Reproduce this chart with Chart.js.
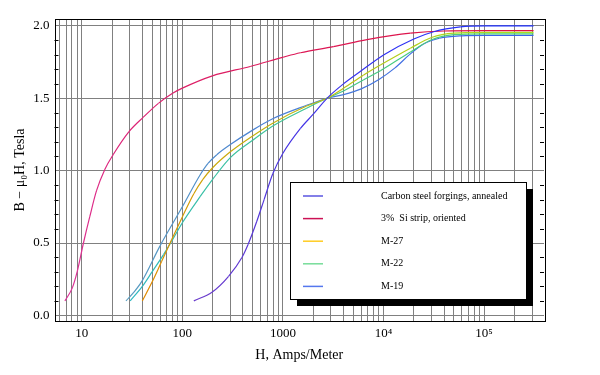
<!DOCTYPE html>
<html>
<head>
<meta charset="utf-8">
<script src="https://cdn.jsdelivr.net/npm/chart.js@4.4.1/dist/chart.umd.min.js"></script>
<style>
  html, body { margin: 0; padding: 0; background: #fff; }
  #wrap { width: 600px; height: 375px; }
</style>
</head>
<body>
<div id="wrap"><canvas id="bh"></canvas></div>
<script>
// B-H curves, values
const seriesNames = ['Carbon steel forgings, annealed', '3%  Si strip, oriented', 'M-27', 'M-22', 'M-19'];

const carbonH = [130, 197, 288, 391, 450, 550, 650, 794, 1000, 1486, 2000, 2740, 4000, 6000, 10000, 20000, 31500, 58000, 100000, 310000];
const carbonB = [0.10, 0.16, 0.27, 0.40, 0.49, 0.65, 0.80, 0.98, 1.12, 1.29, 1.39, 1.50, 1.60, 1.69, 1.80, 1.91, 1.96, 1.993, 2.0, 2.0];

const siH = [6.8, 8.06, 9, 10.4, 12, 14, 17, 20.5, 29.5, 41, 57.8, 80, 100, 199, 473, 1014, 1489, 3170, 6850, 18500, 40000, 100000, 310000];
const siB = [0.10, 0.19, 0.30, 0.50, 0.68, 0.86, 1.01, 1.11, 1.27, 1.37, 1.465, 1.535, 1.57, 1.655, 1.72, 1.785, 1.815, 1.857, 1.905, 1.95, 1.965, 1.967, 1.967];

const m27H = [40, 50, 62, 78, 100, 130, 160, 200, 300, 500, 800, 1700, 2740, 4000, 6300, 9300, 18500, 30000, 50000, 100000, 310000];
const m27B = [0.10, 0.23, 0.37, 0.52, 0.68, 0.84, 0.94, 1.02, 1.13, 1.24, 1.33, 1.445, 1.50, 1.57, 1.66, 1.73, 1.846, 1.92, 1.95, 1.955, 1.955];

const m22H = [30.3, 40, 50, 65, 78, 100, 150, 200, 300, 500, 800, 1700, 2740, 4000, 6300, 9300, 18500, 30000, 50000, 100000, 310000];
const m22B = [0.10, 0.20, 0.30, 0.42, 0.51, 0.64, 0.82, 0.94, 1.09, 1.21, 1.31, 1.43, 1.50, 1.55, 1.627, 1.69, 1.82, 1.905, 1.94, 1.945, 1.945];

const m19H = [27.5, 33, 40, 60, 100, 150, 180, 220, 300, 500, 800, 1700, 2740, 4000, 6000, 9000, 13000, 18000, 25000, 36000, 60000, 100000, 310000];
const m19B = [0.10, 0.16, 0.24, 0.48, 0.75, 0.97, 1.05, 1.11, 1.18, 1.28, 1.36, 1.45, 1.50, 1.525, 1.565, 1.63, 1.71, 1.80, 1.875, 1.915, 1.932, 1.935, 1.935];

// axis ticks
const xGridValues = [6, 7, 8, 9, 10, 20, 30, 40, 50, 60, 70, 80, 90, 100, 200, 300, 400, 500, 600, 700, 800, 900,
  1000, 2000, 3000, 4000, 5000, 6000, 7000, 8000, 9000, 10000, 20000, 30000, 40000, 50000, 60000, 70000, 80000, 90000,
  100000, 200000, 300000];
const xTickValues = [10, 100, 1000, 10000, 100000];
const xTickLabels = ['10', '100', '1000', '10\u2074', '10\u2075'];
const yTickValues = [0.0, 0.5, 1.0, 1.5, 2.0];
const yTickLabels = ['0.0', '0.5', '1.0', '1.5', '2.0'];
const yMinorValues = [0.1, 0.2, 0.3, 0.4, 0.6, 0.7, 0.8, 0.9, 1.1, 1.2, 1.3, 1.4, 1.6, 1.7, 1.8, 1.9];

// colours: legend swatch, plus start/end of the hue run along each curve
const legendColors = ['#5a55e0', '#cc1155', '#ffcc22', '#77dd99', '#5577ee'];
const curveStart = ['#6a3ccc', '#dd3399', '#e08a00', '#30b8c0', '#5a9ec0'];
const curveEnd = ['#2030ff', '#dd1040', '#a8e020', '#50d070', '#3a60ee'];

function hexToRgb(h) {
  return [parseInt(h.slice(1, 3), 16), parseInt(h.slice(3, 5), 16), parseInt(h.slice(5, 7), 16)];
}
function mix(a, b, t) {
  const A = hexToRgb(a), B = hexToRgb(b);
  return 'rgb(' + A.map((v, i) => Math.round(v + (B[i] - v) * t)).join(',') + ')';
}

const allH = [carbonH, siH, m27H, m22H, m19H];
const allB = [carbonB, siB, m27B, m22B, m19B];

const datasets = seriesNames.map((name, k) => {
  const n = allH[k].length;
  return {
    label: name,
    data: allH[k].map((h, i) => ({ x: h, y: allB[k][i] })),
    borderColor: legendColors[k],
    borderWidth: 1.2,
    pointRadius: 0,
    fill: false,
    cubicInterpolationMode: 'monotone',
    segment: {
      borderColor: c => mix(curveStart[k], curveEnd[k], c.p0DataIndex / (n - 2))
    }
  };
});

const serif = "'Liberation Serif', 'DejaVu Serif', serif";

// frame, inner minor ticks and the shadowed legend box
const framePlugin = {
  id: 'framePlugin',
  afterDraw(chart) {
    const { ctx, chartArea: a, scales } = chart;
    ctx.save();
    ctx.strokeStyle = '#000';
    ctx.lineWidth = 1;
    ctx.strokeRect(Math.round(a.left) + 0.5, Math.round(a.top) + 0.5,
      Math.round(a.right - a.left), Math.round(a.bottom - a.top));
    yMinorValues.forEach(v => {
      const y = Math.round(scales.y.getPixelForValue(v)) + 0.5;
      ctx.beginPath();
      ctx.moveTo(a.left, y); ctx.lineTo(a.left + 4, y);
      ctx.moveTo(a.right, y); ctx.lineTo(a.right - 4, y);
      ctx.stroke();
    });

    // legend
    const bx = 290, by = 182, bw = 236, bh = 117, sh = 7;
    ctx.fillStyle = '#000';
    ctx.fillRect(bx + sh, by + sh, bw, bh);
    ctx.fillStyle = '#fff';
    ctx.fillRect(bx, by, bw, bh);
    ctx.strokeRect(bx + 0.5, by + 0.5, bw, bh);
    ctx.font = '10px ' + serif;
    ctx.textBaseline = 'middle';
    chart.data.datasets.forEach((ds, i) => {
      const y = by + 14 + i * 22.6;
      ctx.strokeStyle = legendColors[i];
      ctx.lineWidth = 1.5;
      ctx.beginPath();
      ctx.moveTo(bx + 13, y); ctx.lineTo(bx + 33, y);
      ctx.stroke();
      ctx.fillStyle = '#000';
      ctx.fillText(ds.label, bx + 91, y);
    });
    ctx.restore();
  }
};

new Chart(document.getElementById('bh'), {
  type: 'line',
  data: { datasets },
  plugins: [framePlugin],
  options: {
    responsive: true,
    maintainAspectRatio: false,
    animation: false,
    layout: { padding: { top: 19, right: 56, left: 0, bottom: 0 } },
    plugins: { legend: { display: false }, tooltip: { enabled: false } },
    scales: {
      x: {
        type: 'logarithmic',
        min: 5.36,
        max: 393700,
        afterFit: s => { s.height = 54; },
        afterBuildTicks: s => { s.ticks = xGridValues.map(v => ({ value: v })); },
        border: { display: false },
        grid: { color: '#808080', lineWidth: 1, drawTicks: false },
        ticks: {
          autoSkip: false, maxRotation: 0, padding: 5, color: '#000',
          font: { family: serif, size: 13 },
          callback: v => { const i = xTickValues.indexOf(v); return i < 0 ? '' : xTickLabels[i]; }
        },
        title: {
          display: true, text: 'H, Amps/Meter', color: '#000',
          font: { family: serif, size: 14 }, padding: { top: 0, bottom: 11 }
        }
      },
      y: {
        min: -0.039,
        max: 2.048,
        afterFit: s => { s.width = 54.5; },
        afterBuildTicks: s => { s.ticks = yTickValues.map(v => ({ value: v })); },
        border: { display: false },
        grid: { color: '#808080', lineWidth: 1, drawTicks: false },
        ticks: {
          padding: 5, color: '#000',
          font: { family: serif, size: 13 },
          callback: v => { const i = yTickValues.indexOf(v); return i < 0 ? '' : yTickLabels[i]; }
        },
        title: {
          display: true, text: 'B \u2212 \u03bc\u2080H, Tesla', color: '#000',
          font: { family: serif, size: 14 }, padding: { top: 12, bottom: 0 }
        }
      }
    }
  }
});
</script>
</body>
</html>
